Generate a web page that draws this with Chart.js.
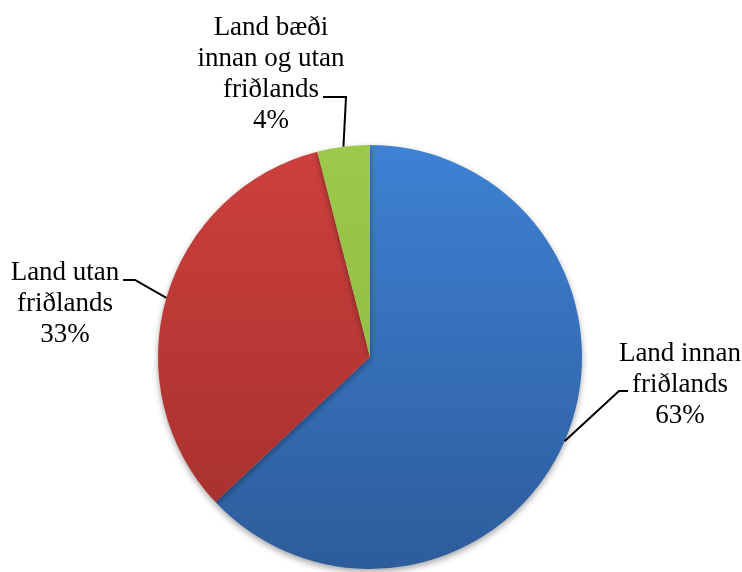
<!DOCTYPE html>
<html>
<head>
<meta charset="utf-8">
<script src="https://cdn.jsdelivr.net/npm/chart.js@4"></script>
<style>
  body { margin: 0; background: #fff; }
  #wrap { width: 742px; height: 572px; }
</style>
</head>
<body>
<div id="wrap"><canvas id="land-pie" width="742" height="572"></canvas></div>
<script>
// category names (label lines) and share in percent
const labelLines = [
    ['Land innan', 'friðlands'],
    ['Land utan', 'friðlands'],
    ['Land bæði', 'innan og utan', 'friðlands']
];
const shares = [63, 33, 4];
const topColors = ['#3e81d4', '#cd403d', '#9cc84c'];
const bottomColors = ['#2d5c9b', '#a32f2c', '#8cb63e'];

// where each label block sits (centre x, first line y) and its leader bend point
const labelSpots = [
    { x: 680, y: 354, bend: [619, 391], start: [628, 391] },
    { x: 65, y: 273, bend: [135, 280], start: [123, 280] },
    { x: 271, y: 28, bend: [346, 97], start: [323, 97] }
];

function sliceGradient(context) {
    const chart = context.chart;
    const area = chart.chartArea;
    if (!area) return topColors[context.dataIndex];
    const g = chart.ctx.createLinearGradient(0, area.top, 0, area.bottom);
    g.addColorStop(0, topColors[context.dataIndex]);
    g.addColorStop(1, bottomColors[context.dataIndex]);
    return g;
}

// soft shadow under the pie
const shadowPlugin = {
    id: 'pieShadow',
    beforeDatasetDraw(chart) {
        const ctx = chart.ctx;
        ctx.save();
        ctx.shadowColor = 'rgba(0,0,0,0.35)';
        ctx.shadowBlur = 6;
        ctx.shadowOffsetY = 3;
    },
    afterDatasetDraw(chart) {
        chart.ctx.restore();
    }
};

// labels with leader lines to the middle of each slice's rim
const labelPlugin = {
    id: 'leaderLabels',
    afterDatasetsDraw(chart) {
        const ctx = chart.ctx;
        const arcs = chart.getDatasetMeta(0).data;
        ctx.save();
        ctx.font = '27px "Liberation Serif", "Times New Roman", serif';
        ctx.fillStyle = '#000';
        ctx.textAlign = 'center';
        ctx.textBaseline = 'middle';
        ctx.strokeStyle = '#000';
        ctx.lineWidth = 2;
        arcs.forEach((arc, i) => {
            const p = arc.getProps(['x', 'y', 'startAngle', 'endAngle', 'outerRadius'], true);
            const mid = (p.startAngle + p.endAngle) / 2;
            const ex = p.x + Math.cos(mid) * p.outerRadius;
            const ey = p.y + Math.sin(mid) * p.outerRadius;
            const spot = labelSpots[i];
            ctx.beginPath();
            ctx.moveTo(spot.start[0], spot.start[1]);
            ctx.lineTo(spot.bend[0], spot.bend[1]);
            ctx.lineTo(ex, ey);
            ctx.stroke();
            const lines = labelLines[i].concat([shares[i] + '%']);
            lines.forEach((t, k) => {
                ctx.fillText(t, spot.x, spot.y + k * 31);
            });
        });
        ctx.restore();
    }
};

const ctx = document.getElementById('land-pie').getContext('2d');
const landChart = new Chart(ctx, {
    type: 'pie',
    data: {
        labels: labelLines.map(l => l.join(' ')),
        datasets: [{
            data: shares,
            backgroundColor: sliceGradient,
            borderWidth: 0
        }]
    },
    options: {
        responsive: false,
        animation: false,
        layout: { padding: { top: 145, bottom: 3, left: 100, right: 102 } },
        plugins: {
            legend: { display: false },
            tooltip: { enabled: false }
        }
    },
    plugins: [shadowPlugin, labelPlugin]
});
</script>
</body>
</html>
